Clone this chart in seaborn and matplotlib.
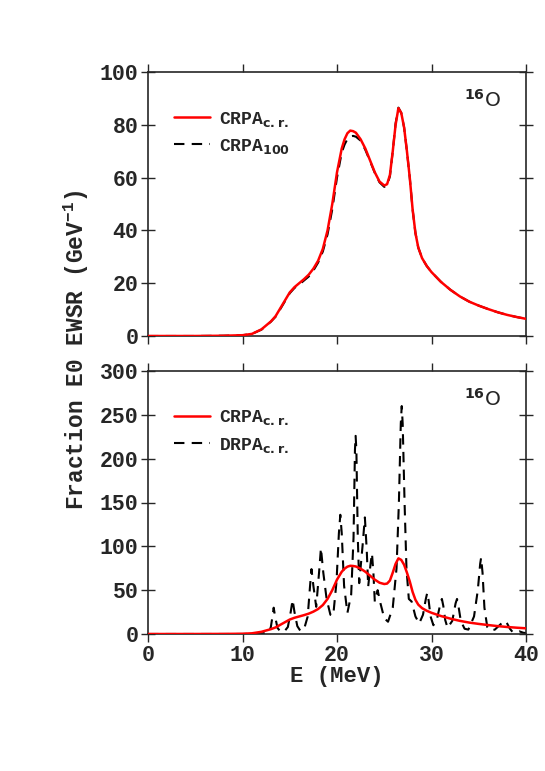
#!/usr/bin/env python3
# coding: utf-8
import numpy as np
import pandas as pd
import seaborn as sns
import matplotlib.pyplot as plt

# ------------------------------------------------
# Data
# ------------------------------------------------
e_crpa = [0, 5, 8, 10, 11, 12, 13, 13.5, 14, 14.5, 15, 15.5, 16, 16.5, 17, 17.5,
          18, 18.5, 19, 19.5, 20, 20.5, 20.8, 21.1, 21.4, 21.7, 22, 22.5, 23,
          23.5, 24, 24.5, 25, 25.3, 25.6, 25.9, 26.2, 26.5, 26.8, 27.1, 27.4,
          27.7, 28, 28.3, 28.6, 29, 29.5, 30, 31, 32, 33, 34, 35, 36, 37, 38,
          39, 40]
crpa_cr = [0, 0, 0.1, 0.3, 0.8, 2.5, 5.5, 7.5, 10.5, 13.5, 16.5, 18.5, 20, 21.5,
           23.2, 25.5, 28.5, 33, 40, 50, 62, 71, 74.5, 76.8, 77.8, 77.6, 77,
           74.5, 71, 66.5, 62, 58.5, 57, 57.5, 61, 70, 80, 86.3, 84.5, 79, 70,
           60, 48, 39, 33.5, 29.5, 26.5, 24.2, 20.5, 17.5, 15, 13, 11.5, 10.2,
           9, 8, 7.2, 6.5]
crpa_100 = [0, 0, 0.1, 0.3, 0.8, 2.4, 5.4, 7.3, 10.2, 13.2, 16.2, 18.2, 19.5,
            21.0, 22.5, 24.8, 27.8, 32, 38.5, 48, 60, 69.5, 72.5, 74.6, 75.6,
            75.8, 75.5, 74, 70.5, 66.2, 61.8, 58.2, 56.5, 57, 60.5, 70, 80.5,
            86.5, 84.5, 79, 70, 60, 48, 39, 33.5, 29.5, 26.5, 24.2, 20.5, 17.5,
            15, 13, 11.5, 10.2, 9, 8, 7.2, 6.5]

e_drpa = [0, 10, 12, 12.8, 13.0, 13.2, 13.3, 13.45, 13.7, 14.0, 14.4, 14.8, 15.1,
          15.3, 15.5, 15.8, 16.1, 16.5, 16.9, 17.15, 17.3, 17.5, 17.8, 18.1, 18.3,
          18.55, 18.9, 19.3, 19.6, 19.95, 20.2, 20.35, 20.5, 20.75, 21.1, 21.5,
          21.75, 21.9, 21.97, 22.05, 22.2, 22.35, 22.7, 22.95, 23.15, 23.3,
          23.55, 23.7, 23.85, 24.0, 24.3, 24.6, 25.0, 25.4, 25.9, 26.3, 26.55,
          26.75, 26.85, 26.95, 27.15, 27.35, 27.6, 27.9, 28.3, 28.7, 29.1, 29.4,
          29.55, 29.7, 29.9, 30.2, 30.6, 30.95, 31.1, 31.25, 31.45, 31.7, 32.2,
          32.55, 32.7, 32.85, 33.1, 33.5, 33.9, 34.5, 34.9, 35.15, 35.25, 35.4,
          35.6, 35.9, 36.2, 36.7, 37.2, 37.6, 37.8, 38.0, 38.3, 38.6, 39.0, 39.3,
          39.7, 40]
drpa_cr = [0, 0, 0.5, 2, 8, 22, 30, 20, 7, 3, 2.5, 8, 25,
           39, 25, 9, 4, 5, 20, 55, 74, 55, 31, 70, 98,
           70, 40, 22, 21, 60, 115, 136, 115, 55, 24, 45,
           110, 210, 226, 210, 110, 58, 100, 133, 95, 54,
           80, 92, 70, 37, 50, 35, 18, 14, 30, 75, 150,
           240, 260, 240, 150, 75, 40, 37, 20, 12, 22, 40,
           47, 38, 20, 10, 18, 35, 40, 32, 16, 7, 15,
           35, 40, 32, 15, 6, 5, 20, 50, 80, 87, 70,
           30, 8, 4, 5, 10, 14, 15, 12, 6, 2, 2, 3,
           1.5, 1]

x_ticks = [0, 10, 20, 30, 40]
top_yticks = [0, 20, 40, 60, 80, 100]
bot_yticks = [0, 50, 100, 150, 200, 250, 300]

# ------------------------------------------------
# Plot
# ------------------------------------------------
sns.set_style("ticks")
plt.rcParams['font.family'] = ['Liberation Mono', 'DejaVu Sans']
plt.rcParams['font.weight'] = 'bold'
plt.rcParams['axes.labelweight'] = 'bold'
plt.rcParams['mathtext.default'] = 'regular'

fig = plt.figure(figsize=(5.45, 7.71), dpi=100)
ax1 = fig.add_axes([148 / 545, 1 - 336 / 771, 378 / 545, 264 / 771])
ax2 = fig.add_axes([148 / 545, 1 - 634 / 771, 378 / 545, 263 / 771])

top = pd.DataFrame({'E': e_crpa, 'cr': crpa_cr, 'c100': crpa_100})
bot = pd.DataFrame({'E': e_drpa, 'drpa': drpa_cr})

sub_cr = r'CRPA$_{\mathbf{c{.}r{.}}}$'
sns.lineplot(data=top, x='E', y='cr', ax=ax1, color='red', lw=1.8,
             estimator=None, sort=False, label=sub_cr, zorder=3)
sns.lineplot(data=top, x='E', y='c100', ax=ax1, color='black', lw=1.5,
             estimator=None, sort=False, label=r'CRPA$_{\mathbf{100}}$',
             dashes=(5, 3.5), zorder=2)

sns.lineplot(data=top, x='E', y='cr', ax=ax2, color='red', lw=1.8,
             estimator=None, sort=False, label=sub_cr, zorder=3)
sns.lineplot(data=bot, x='E', y='drpa', ax=ax2, color='black', lw=1.5,
             estimator=None, sort=False, label=r'DRPA$_{\mathbf{c{.}r{.}}}$',
             dashes=(5, 3.5), zorder=2)

for ax, yt, ymax in [(ax1, top_yticks, 100), (ax2, bot_yticks, 300)]:
    ax.set_xlim(0, 40)
    ax.set_ylim(0, ymax)
    ax.set_xticks(x_ticks)
    ax.set_yticks(yt)
    ax.set_xlabel('')
    ax.set_ylabel('')
    ax.tick_params(axis='x', direction='out', top=True, bottom=True,
                   length=6, width=1, labelsize=15.5, pad=2)
    ax.tick_params(axis='y', direction='inout', left=True, right=True,
                   length=10, width=1, labelsize=15.5, pad=2)
    for s in ax.spines.values():
        s.set_linewidth(1.2)
    ax.legend(loc='upper left', bbox_to_anchor=(0.05, 0.885), frameon=False,
              fontsize=13, handlelength=2.0, handletextpad=0.5,
              labelspacing=0.45, borderaxespad=0)
    ax.text(0.935, 0.895, r'$^{\mathbf{16}}$O', transform=ax.transAxes,
            ha='right', va='center', fontsize=14.5, family='DejaVu Sans',
            fontweight='normal')

ax1.tick_params(axis='x', labelbottom=False)
ax2.set_xlabel('E (MeV)', fontsize=16, labelpad=0)
fig.text(76 / 545, 1 - 350 / 771, r'Fraction E0 EWSR (GeV$^{-1}$)', rotation=90,
         ha='center', va='center', fontsize=16.5)

plt.savefig('out.png', dpi=100)
plt.close(fig)
